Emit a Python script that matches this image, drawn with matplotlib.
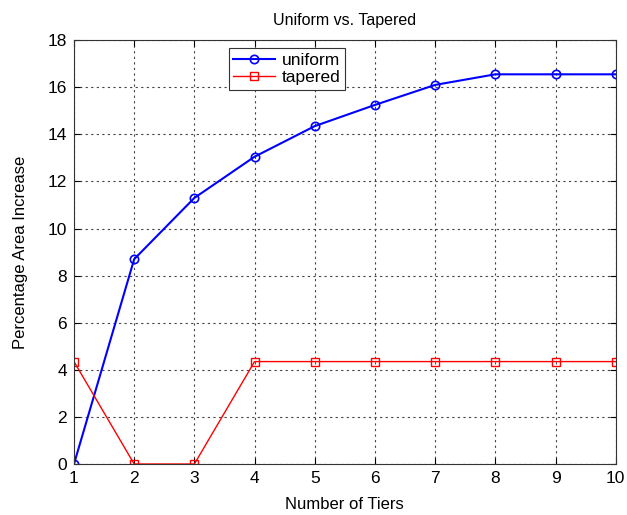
import matplotlib
matplotlib.use("Agg")
import matplotlib.pyplot as plt

tiers = [1, 2, 3, 4, 5, 6, 7, 8, 9, 10]
uniform = [0, 8.7, 11.3, 13.05, 14.35, 15.25, 16.1, 16.55, 16.55, 16.55]
tapered = [4.35, 0, 0, 4.35, 4.35, 4.35, 4.35, 4.35, 4.35, 4.35]
yticks = [0, 2, 4, 6, 8, 10, 12, 14, 16, 18]

plt.rcParams['font.family'] = ['Liberation Sans', 'DejaVu Sans']

fig = plt.figure(figsize=(6.27, 5.15), dpi=100)
ax = fig.add_axes([0.118, 0.099, 0.864, 0.823])

ax.plot(tiers, uniform, color='#0000ff', marker='o', markersize=6, markerfacecolor='none',
        markeredgewidth=1.2, linewidth=1.5, label='uniform')
ax.plot(tiers, tapered, color='#ff0000', marker='s', markersize=6, markerfacecolor='none',
        markeredgewidth=1.0, linewidth=1.0, label='tapered')

ax.set_xlim(1, 10)
ax.set_ylim(0, 18)
ax.set_xticks(tiers)
ax.set_yticks(yticks)
ax.grid(True, color='#444444', linestyle=(0, (2, 3)), linewidth=0.8)
ax.tick_params(direction='in', labelsize=12.5, length=4, top=True, right=True, pad=5)
for s in ax.spines.values():
    s.set_color('#333333')
    s.set_linewidth(0.8)

ax.set_title('Uniform vs. Tapered', fontsize=11.5, pad=11)
ax.set_xlabel('Number of Tiers', fontsize=12, labelpad=8)
ax.set_ylabel('Percentage Area Increase', fontsize=12, labelpad=14)

leg = ax.legend(loc='upper left', bbox_to_anchor=(0.286, 0.981), fontsize=12.5,
                fancybox=False, framealpha=1, edgecolor='#333333',
                borderpad=0.25, labelspacing=0.15, handlelength=2.4, handletextpad=0.4,
                borderaxespad=0)
leg.get_frame().set_linewidth(0.8)

fig.savefig('out.png', dpi=100)
